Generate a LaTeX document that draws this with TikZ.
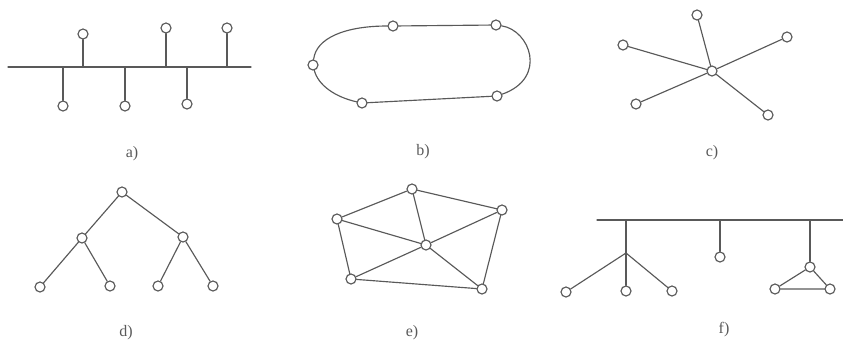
\documentclass[tikz,border=0pt]{standalone}
\usepackage{fontspec}
\setmainfont{Liberation Serif}
\begin{document}
\begin{tikzpicture}[x=1pt, y=-1pt, line join=round, line cap=round, line width=1.15pt, color=black!65,
	font=\fontsize{16}{19}\selectfont,
	stn/.style={circle, draw, fill=white, inner sep=0pt, minimum size=10pt}]
	\useasboundingbox (0,0) rectangle (843,341);
	% a) bus
	\coordinate (aw) at (8,67);
	\coordinate (ae) at (251,67);
	\draw (aw) -- (ae);
	\node[stn] (a1) at (83,34) {};
	\node[stn] (a2) at (166,28) {};
	\node[stn] (a3) at (227,28) {};
	\node[stn] (a4) at (63,106) {};
	\node[stn] (a5) at (125,106) {};
	\node[stn] (a6) at (187,104) {};
	\foreach \n in {a1,a2,a3,a4,a5,a6}
	\draw (\n) -- (\n |- aw);
	\node (la) at (132,154) {a)};
	% b) ring
	\node[stn] (b1) at (393,26) {};
	\node[stn] (b2) at (496,25) {};
	\node[stn] (b3) at (497,96) {};
	\node[stn] (b4) at (362,103) {};
	\node[stn] (b5) at (313,65) {};
	\draw (b1) -- (b2);
	\draw (b2) .. controls (530,30) and (548,78) .. (b3);
	\draw (b3) -- (b4);
	\draw (b4) .. controls (335,97) and (318,85) .. (b5);
	\draw (b5) .. controls (316,38) and (345,26) .. (b1);
	\node (lb) at (423,152) {b)};
	% c) star
	\node[stn] (c0) at (712,71) {};
	\node[stn] (c1) at (697,15) {};
	\node[stn] (c2) at (623,45) {};
	\node[stn] (c3) at (787,37) {};
	\node[stn] (c4) at (636,104) {};
	\node[stn] (c5) at (768,115) {};
	\foreach \n in {c1,c2,c3,c4,c5}
	\draw (c0) -- (\n);
	\node (lc) at (712,153) {c)};
	% d) tree
	\node[stn] (d0) at (122,192) {};
	\node[stn] (d1) at (82,238) {};
	\node[stn] (d2) at (183,237) {};
	\node[stn] (d3) at (40,287) {};
	\node[stn] (d4) at (110,286) {};
	\node[stn] (d5) at (158,286) {};
	\node[stn] (d6) at (213,286) {};
	\foreach \u/\v in {d0/d1, d0/d2, d1/d3, d1/d4, d2/d5, d2/d6}
	\draw (\u) -- (\v);
	\node (ld) at (126,333) {d)};
	% e) mesh
	\node[stn] (e0) at (426,245) {};
	\node[stn] (e1) at (412,189) {};
	\node[stn] (e2) at (502,210) {};
	\node[stn] (e3) at (482,289) {};
	\node[stn] (e4) at (351,279) {};
	\node[stn] (e5) at (337,219) {};
	\foreach \u/\v in {e1/e2, e2/e3, e3/e4, e4/e5, e5/e1, e0/e1, e0/e2, e0/e3, e0/e4, e0/e5}
	\draw (\u) -- (\v);
	\node (le) at (412,333) {e)};
	% f) mixed
	\coordinate (fw) at (597,220);
	\coordinate (fe) at (843,220);
	\draw (fw) -- (fe);
	\coordinate (fh) at (626,253);
	\draw (fh |- fw) -- (fh);
	\node[stn] (f1) at (566,292) {};
	\node[stn] (f2) at (626,291) {};
	\node[stn] (f3) at (672,291) {};
	\foreach \n in {f1,f2,f3}
	\draw (fh) -- (\n);
	\node[stn] (f4) at (720,257) {};
	\draw (f4) -- (f4 |- fw);
	\node[stn] (f5) at (810,267) {};
	\node[stn] (f6) at (775,289) {};
	\node[stn] (f7) at (830,289) {};
	\draw (f5) -- (f5 |- fw);
	\draw (f5) -- (f6) -- (f7) -- (f5);
	\node (lf) at (724,330) {f)};
\end{tikzpicture}
\end{document}
